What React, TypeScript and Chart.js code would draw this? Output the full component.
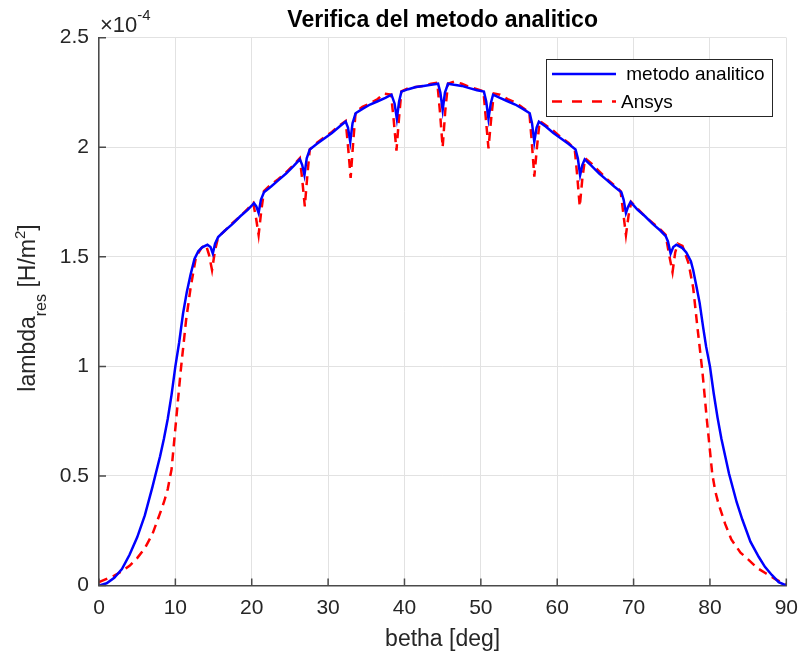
import { useEffect, useRef } from "react";
import { Chart, registerables } from "chart.js";

Chart.register(...registerables);

// ---- data (lambda values in units of 1e-4 H/m^2) ----
const bethaAnalitico = [
  0, 1, 2, 3, 4, 5, 6, 7, 8, 8.5, 9, 9.5, 10, 10.5, 11, 11.5, 12, 12.5, 13, 13.5, 14.2, 14.6, 14.9, 15.2, 15.6,
  16.5, 17.5, 18.5, 19.5, 20.3, 20.6, 20.9, 21.2, 21.6, 22.5, 23.5, 24.5, 25.5, 26.3, 26.6, 26.9, 27.2, 27.6,
  28.5, 29.5, 30.5, 31.5, 32.3, 32.6, 32.9, 33.2, 33.6, 34.5, 35.5, 36.5, 37.5, 38.3, 38.7, 39.0, 39.3, 39.6,
  40.5, 41.5, 42.5, 43.5, 44.4, 44.7, 45.0, 45.3, 45.7, 46.5, 47.5, 48.5, 49.5, 50.4, 50.7, 51.0, 51.3, 51.6,
  52.5, 53.5, 54.5, 55.5, 56.4, 56.7, 57.0, 57.3, 57.6, 58.5, 59.5, 60.5, 61.5, 62.4, 62.7, 63.0, 63.3, 63.6,
  64.5, 65.5, 66.5, 67.5, 68.4, 68.7, 69.0, 69.3, 69.6, 70.5, 71.5, 72.5, 73.5, 74.2, 74.5, 74.85, 75.2, 75.6,
  76.4, 76.9, 77.5, 77.8, 78.2, 78.65, 79.1, 79.5, 80, 80.5, 81, 81.5, 82, 82.5, 83.5, 84.25, 85.3, 86.4, 87.2,
  88.1, 89, 90,
];
const lambdaAnalitico = [
  0, 0.01, 0.035, 0.075, 0.14, 0.22, 0.32, 0.45, 0.59, 0.67, 0.76, 0.87, 1.0, 1.11, 1.24, 1.34, 1.42, 1.49, 1.525, 1.543, 1.555, 1.545, 1.515, 1.56, 1.59,
  1.62, 1.65, 1.685, 1.715, 1.745, 1.73, 1.7, 1.76, 1.795, 1.82, 1.85, 1.88, 1.915, 1.945, 1.92, 1.873, 1.95, 1.99,
  2.015, 2.04, 2.065, 2.095, 2.117, 2.09, 2.025, 2.11, 2.155, 2.175, 2.195, 2.21, 2.225, 2.24, 2.2, 2.13, 2.21, 2.254,
  2.265, 2.275, 2.28, 2.285, 2.29, 2.25, 2.17, 2.25, 2.29, 2.285, 2.28, 2.27, 2.26, 2.254, 2.21, 2.13, 2.2, 2.24,
  2.225, 2.21, 2.195, 2.175, 2.155, 2.11, 2.025, 2.09, 2.117, 2.095, 2.065, 2.04, 2.015, 1.99, 1.95, 1.873, 1.92, 1.945,
  1.915, 1.88, 1.85, 1.82, 1.795, 1.76, 1.7, 1.73, 1.75, 1.715, 1.685, 1.65, 1.62, 1.595, 1.57, 1.515, 1.545, 1.555,
  1.54, 1.52, 1.48, 1.44, 1.37, 1.29, 1.18, 1.09, 1.0, 0.875, 0.765, 0.67, 0.59, 0.51, 0.38, 0.3, 0.2, 0.13, 0.085,
  0.048, 0.015, 0,
];

const bethaAnsys = [
  0, 1, 2, 3, 4, 5, 6, 7, 8, 8.5, 9, 9.5, 10.1, 10.7, 11.4, 12, 12.7, 13.4, 14.0, 14.4, 14.8, 15.2, 15.6,
  16.5, 17.5, 18.5, 19.5, 20.2, 20.55, 20.9, 21.25, 21.6, 22.5, 23.5, 24.5, 25.5, 26.3, 26.62, 26.95, 27.3, 27.6,
  28.5, 29.5, 30.5, 31.5, 32.3, 32.62, 32.95, 33.3, 33.6, 34.5, 35.5, 36.5, 37.3, 38.25, 38.6, 38.95, 39.3, 39.6,
  40.5, 41.5, 42.5, 43.5, 44.3, 44.65, 45.0, 45.35, 45.7, 46.5, 47.5, 48.5, 49.5, 50.35, 50.68, 51.0, 51.35, 51.7,
  52.5, 53.5, 54.5, 55.5, 56.35, 56.68, 57.0, 57.35, 57.7, 58.5, 59.5, 60.5, 61.5, 62.3, 62.62, 62.95, 63.3, 63.65,
  64.5, 65.5, 66.5, 67.5, 68.3, 68.65, 69.0, 69.35, 69.7, 70.5, 71.5, 72.5, 73.5, 74.2, 74.65, 75.1, 75.45, 75.8,
  76.4, 77.2, 77.8, 78.4, 79, 79.6, 80.3, 80.7, 81.1, 82, 82.8, 84, 85.1, 86.2, 87.3, 88.5, 89.6, 90,
];
const lambdaAnsys = [
  0.015, 0.03, 0.045, 0.065, 0.09, 0.125, 0.17, 0.235, 0.33, 0.38, 0.44, 0.53, 0.755, 0.98, 1.21, 1.36, 1.5, 1.54, 1.555, 1.51, 1.44, 1.53, 1.59,
  1.62, 1.655, 1.685, 1.72, 1.745, 1.68, 1.6, 1.71, 1.8, 1.83, 1.855, 1.885, 1.92, 1.95, 1.85, 1.73, 1.88, 1.99,
  2.02, 2.045, 2.07, 2.1, 2.12, 2.0, 1.86, 2.03, 2.16, 2.185, 2.2, 2.22, 2.245, 2.24, 2.12, 1.985, 2.14, 2.255,
  2.27, 2.275, 2.28, 2.29, 2.295, 2.16, 2.0, 2.17, 2.29, 2.3, 2.29, 2.275, 2.265, 2.255, 2.12, 1.995, 2.13, 2.245,
  2.24, 2.22, 2.205, 2.18, 2.16, 2.02, 1.866, 2.0, 2.12, 2.1, 2.075, 2.045, 2.02, 1.99, 1.87, 1.73, 1.86, 1.95,
  1.925, 1.89, 1.855, 1.825, 1.8, 1.7, 1.6, 1.69, 1.75, 1.72, 1.685, 1.655, 1.625, 1.6, 1.51, 1.43, 1.52, 1.56,
  1.55, 1.47, 1.36, 1.166, 0.98, 0.755, 0.51, 0.43, 0.375, 0.28, 0.21, 0.15, 0.116, 0.08, 0.056, 0.03, 0.01, 0.005,
];

const xTicks = [0, 10, 20, 30, 40, 50, 60, 70, 80, 90];
const yTicks = [0, 0.5, 1, 1.5, 2, 2.5];
const chartTitle = "Verifica del metodo analitico";
const xLabel = "betha [deg]";
const seriesNames = [" metodo analitico", "Ansys"];

const FONT = "'Liberation Sans', Arial, Helvetica, sans-serif";
const AXIS_COLOR = "#4a4a4a";
const TEXT_COLOR = "#262626";

type Part = { t: string; size: number; dy: number };

function drawParts(ctx: CanvasRenderingContext2D, parts: Part[], x: number, y: number, align: "left" | "center") {
  let total = 0;
  for (const p of parts) {
    ctx.font = `${p.size}px ${FONT}`;
    total += ctx.measureText(p.t).width;
  }
  let cx = align === "center" ? x - total / 2 : x;
  ctx.textAlign = "left";
  ctx.textBaseline = "alphabetic";
  for (const p of parts) {
    ctx.font = `${p.size}px ${FONT}`;
    ctx.fillText(p.t, cx, y + p.dy);
    cx += ctx.measureText(p.t).width;
  }
}

const decorPlugin = {
  id: "decor",
  afterDraw(chart: any) {
    const ctx: CanvasRenderingContext2D = chart.ctx;
    const { left, right, top, bottom } = chart.chartArea;
    const xs = chart.scales.x;
    const ys = chart.scales.y;
    ctx.save();

    // inward tick marks
    ctx.strokeStyle = AXIS_COLOR;
    ctx.lineWidth = 1.5;
    ctx.beginPath();
    for (const v of xTicks) {
      const px = xs.getPixelForValue(v);
      ctx.moveTo(px, bottom);
      ctx.lineTo(px, bottom - 7);
    }
    for (const v of yTicks) {
      const py = ys.getPixelForValue(v);
      ctx.moveTo(left, py);
      ctx.lineTo(left + 7, py);
    }
    ctx.stroke();

    // title
    ctx.fillStyle = "#000";
    ctx.font = `bold 23px ${FONT}`;
    ctx.textAlign = "center";
    ctx.textBaseline = "alphabetic";
    ctx.fillText(chartTitle, (left + right) / 2, 26.5);

    // x label
    ctx.fillStyle = TEXT_COLOR;
    ctx.font = `23px ${FONT}`;
    ctx.fillText(xLabel, (left + right) / 2, 646);

    // exponent label
    drawParts(
      ctx,
      [
        { t: "\u00d710", size: 22, dy: 0 },
        { t: "-4", size: 15, dy: -12 },
      ],
      left + 1,
      top - 6,
      "left"
    );

    // y label (rotated)
    ctx.save();
    ctx.translate(35, 308);
    ctx.rotate(-Math.PI / 2);
    drawParts(
      ctx,
      [
        { t: "lambda", size: 23, dy: 0 },
        { t: "res", size: 16, dy: 11 },
        { t: " [H/m", size: 23, dy: 0 },
        { t: "2", size: 15, dy: -10 },
        { t: "]", size: 23, dy: 0 },
      ],
      0,
      0,
      "center"
    );
    ctx.restore();

    // legend
    const bx = 546, by = 59, bw = 226, bh = 57;
    ctx.fillStyle = "#fff";
    ctx.fillRect(bx, by, bw, bh);
    ctx.strokeStyle = TEXT_COLOR;
    ctx.lineWidth = 1;
    ctx.strokeRect(bx + 0.5, by + 0.5, bw, bh);
    const rows = [74, 101.5];
    const colors = ["#0000ff", "#ff0000"];
    rows.forEach((ry, i) => {
      ctx.strokeStyle = colors[i];
      ctx.lineWidth = 2.5;
      ctx.setLineDash(i === 1 ? [10, 10] : []);
      ctx.beginPath();
      ctx.moveTo(552, ry);
      ctx.lineTo(616, ry);
      ctx.stroke();
      ctx.setLineDash([]);
      ctx.fillStyle = "#000";
      ctx.font = `19px ${FONT}`;
      ctx.textAlign = "left";
      ctx.textBaseline = "middle";
      ctx.fillText(seriesNames[i], 621, ry + 1);
    });

    ctx.restore();
  },
};

export default function App() {
  const ref = useRef<HTMLCanvasElement | null>(null);

  useEffect(() => {
    if (!ref.current) return;
    const chart = new Chart(ref.current, {
      type: "line",
      data: {
        datasets: [
          {
            label: seriesNames[0],
            data: bethaAnalitico.map((b, i) => ({ x: b, y: lambdaAnalitico[i] })),
            borderColor: "#0000ff",
            backgroundColor: "#0000ff",
            borderWidth: 2.5,
            pointRadius: 0,
            tension: 0,
          },
          {
            label: seriesNames[1],
            data: bethaAnsys.map((b, i) => ({ x: b, y: lambdaAnsys[i] })),
            borderColor: "#ff0000",
            backgroundColor: "#ff0000",
            borderWidth: 2.5,
            borderDash: [9, 6],
            pointRadius: 0,
            tension: 0,
          },
        ],
      },
      options: {
        responsive: false,
        animation: false,
        devicePixelRatio: 1,
        layout: { padding: { left: 0, right: 13.5, top: 37.7, bottom: 0 } },
        plugins: {
          legend: { display: false },
          title: { display: false },
          tooltip: { enabled: false },
        },
        scales: {
          x: {
            type: "linear",
            min: 0,
            max: 90,
            afterBuildTicks: (s: any) => {
              s.ticks = xTicks.map((v) => ({ value: v }));
            },
            afterFit: (s: any) => {
              s.height = 69.5;
            },
            ticks: {
              font: { family: FONT, size: 21 },
              color: TEXT_COLOR,
              padding: 10,
              maxRotation: 0,
            },
            grid: { color: "#e2e2e2", lineWidth: 1, drawTicks: false },
            border: { display: true, color: AXIS_COLOR, width: 1.5 },
          },
          y: {
            type: "linear",
            min: 0,
            max: 2.5,
            afterBuildTicks: (s: any) => {
              s.ticks = yTicks.map((v) => ({ value: v }));
            },
            afterFit: (s: any) => {
              s.width = 99;
            },
            ticks: {
              font: { family: FONT, size: 21 },
              color: TEXT_COLOR,
              padding: 10,
              callback: (v: any) => String(v),
            },
            grid: { color: "#e2e2e2", lineWidth: 1, drawTicks: false },
            border: { display: true, color: AXIS_COLOR, width: 1.5 },
          },
        },
      },
      plugins: [decorPlugin],
    });
    return () => chart.destroy();
  }, []);

  return (
    <div style={{ position: "absolute", left: 0, top: 0, width: 808, height: 655, background: "#fff" }}>
      <canvas ref={ref} width={808} height={655} style={{ display: "block" }} />
    </div>
  );
}
